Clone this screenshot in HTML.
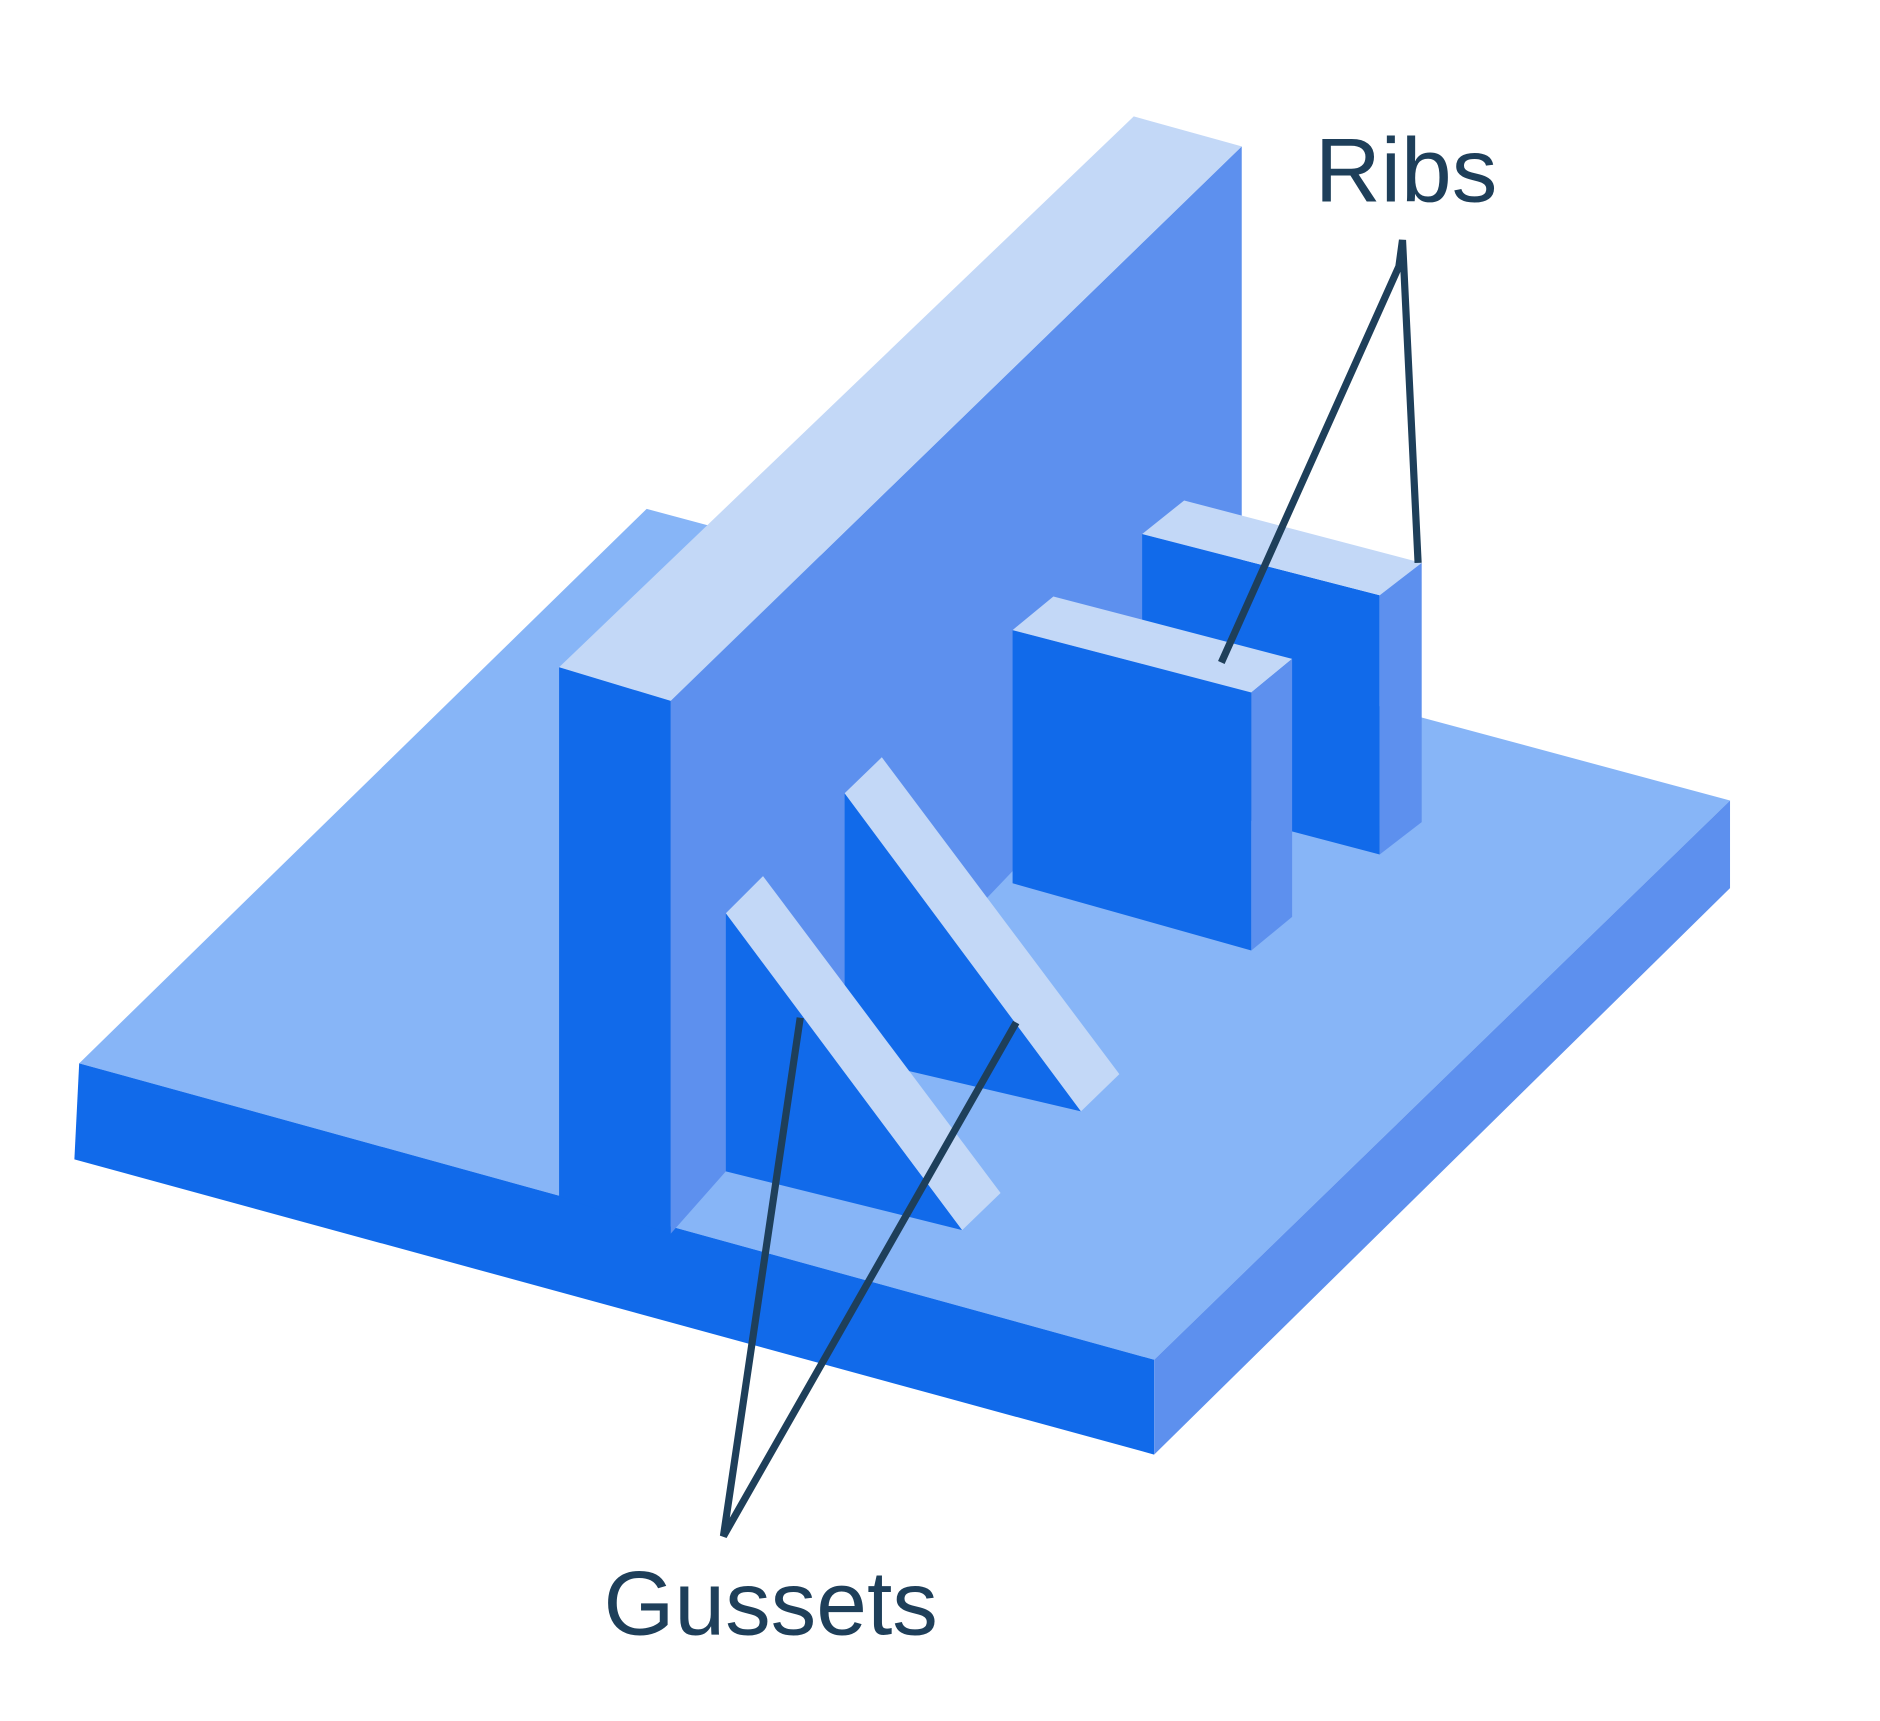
<!DOCTYPE html>
<html><head><meta charset="utf-8"><style>html,body{margin:0;padding:0;background:#fff}svg{display:block}</style></head>
<body>
<svg width="1880" height="1721" viewBox="0 0 1567 1434" preserveAspectRatio="none" xmlns="http://www.w3.org/2000/svg">
<polygon points="66,886 539,424 1442,667 962,1133" fill="#87B5F7"/>
<polygon points="66,886 962,1133 962,1212 62,966" fill="#116AEA"/>
<polygon points="962,1133 1442,667 1442,740 962,1212" fill="#5D90EE"/>
<polygon points="559,584 1035,122 1035,526 605,976 559,1028" fill="#5D90EE"/>
<polygon points="466,556 945,97 1035,122 559,584" fill="#C3D8F7"/>
<polygon points="466,556 559,584 559,1028 466,997" fill="#116AEA"/>
<polygon points="952,445 1150,496 1150,712 952,660" fill="#116AEA"/>
<polygon points="952,445 987,417 1185,469 1150,496" fill="#C3D8F7"/>
<polygon points="1150,496 1185,469 1185,685 1150,712" fill="#5D90EE"/>
<polygon points="844,525 1043,577 1043,792 844,736" fill="#116AEA"/>
<polygon points="844,525 878,497 1077,549 1043,577" fill="#C3D8F7"/>
<polygon points="1043,577 1077,549 1077,764 1043,792" fill="#5D90EE"/>
<polygon points="704,661 901,926 730,886 704,880" fill="#116AEA"/>
<polygon points="704,661 735,631 933,895 901,926" fill="#C3D8F7"/>
<polygon points="605,761 802,1025 605,976" fill="#116AEA"/>
<polygon points="605,761 636,730 834,994 802,1025" fill="#C3D8F7"/>
<polyline points="1018,552 1166,222 1169,200 1182,469" fill="none" stroke="#1E3F5A" stroke-width="6"/>
<polyline points="667,848 603,1280 847,852" fill="none" stroke="#1E3F5A" stroke-width="6"/>
<text x="1096" y="168" font-family="Liberation Sans, sans-serif" font-size="76" fill="#1E3F5A">Ribs</text>
<text x="503" y="1362" font-family="Liberation Sans, sans-serif" font-size="76" fill="#1E3F5A">Gussets</text>
</svg>
</body></html>
